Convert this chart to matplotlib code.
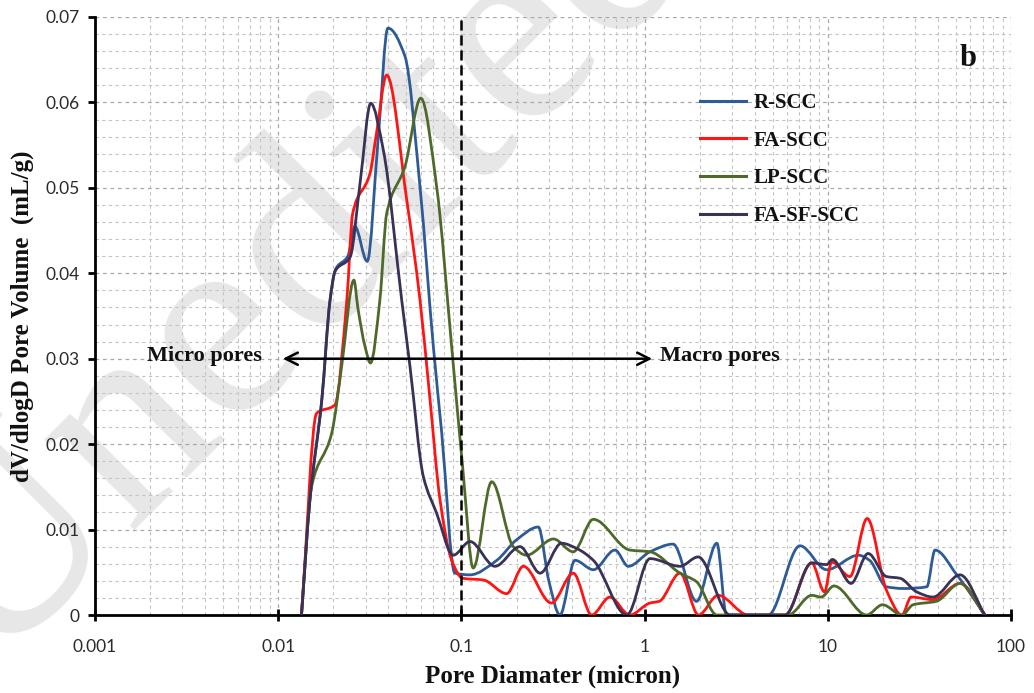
import numpy as np
import matplotlib
matplotlib.use("Agg")
import matplotlib.pyplot as plt
from matplotlib.path import Path
from matplotlib.patches import PathPatch
from matplotlib.lines import Line2D
from matplotlib.ticker import FixedLocator, MultipleLocator, LogLocator, NullFormatter

# ---- pore size distribution data (diameter in micron, dV/dlogD in mL/g) ----
series_names = ["R-SCC", "FA-SCC", "LP-SCC", "FA-SF-SCC"]
series_colors = ["#2e5b95", "#ff1414", "#4e6a2b", "#3b3055"]

r_scc_d = [0.0134, 0.0149, 0.0173, 0.0192, 0.0206, 0.0240, 0.0262, 0.0306, 0.0352, 0.0397,
           0.0492, 0.0595, 0.0703, 0.0781, 0.0921, 0.1114, 0.156, 0.200, 0.263, 0.300,
           0.345, 0.417, 0.525, 0.689, 0.815, 1.07, 1.43, 1.92, 2.48, 2.8,
           4.73, 7.05, 9.86, 14.7, 16.9, 20.9, 25.9, 34.7, 38.5, 50.6, 72.1]
r_scc_v = [0.0, 0.0135, 0.0252, 0.0369, 0.0405, 0.0420, 0.0455, 0.0414, 0.0560, 0.0687,
           0.0654, 0.0500, 0.0314, 0.0213, 0.0049, 0.0047, 0.0064, 0.0088, 0.0103, 0.0040,
           0.0, 0.0064, 0.0053, 0.0076, 0.0057, 0.0074, 0.0083, 0.0016, 0.0084, 0.0,
           0.0, 0.0081, 0.0053, 0.0070, 0.0064, 0.0033, 0.0031, 0.0033, 0.0076, 0.0047, 0.0]

fa_scc_d = [0.0134, 0.0162, 0.0204, 0.0237, 0.0255, 0.0317, 0.0344, 0.0391, 0.0503, 0.0594,
            0.0674, 0.0764, 0.0885, 0.1015, 0.1318, 0.1766, 0.2178, 0.310, 0.408, 0.514,
            0.647, 0.83, 1.07, 1.2, 1.56, 1.97, 2.52, 3.68, 5.84, 8.17,
            9.6, 10.5, 13.2, 16.4, 20.9, 25.4, 28.5, 37.5, 52.7, 72.0]
fa_scc_v = [0.0, 0.0236, 0.0246, 0.0369, 0.0470, 0.0517, 0.0564, 0.0632, 0.0486, 0.0369,
            0.0252, 0.0135, 0.0064, 0.0043, 0.0041, 0.0025, 0.0057, 0.0014, 0.0049, 0.0,
            0.0021, 0.0, 0.0014, 0.0016, 0.0049, 0.0, 0.0023, 0.0, 0.0, 0.0061,
            0.0027, 0.0062, 0.0045, 0.0113, 0.0029, 0.0, 0.0021, 0.0018, 0.0037, 0.0]

lp_scc_d = [0.0134, 0.0152, 0.0196, 0.0222, 0.0259, 0.0272, 0.0298, 0.0319, 0.0359, 0.0391,
            0.0492, 0.0600, 0.0733, 0.0885, 0.1015, 0.116, 0.1464, 0.192, 0.227, 0.318,
            0.408, 0.525, 0.832, 1.07, 1.56, 1.92, 2.48, 6.08, 8.17, 9.2,
            10.8, 16.3, 19.9, 25.4, 29.2, 39.1, 52.7, 72.0]
lp_scc_v = [0.0, 0.0150, 0.0213, 0.0291, 0.0392, 0.0360, 0.0314, 0.0295, 0.0369, 0.0470,
            0.0525, 0.0605, 0.0501, 0.0314, 0.0174, 0.0055, 0.0156, 0.0080, 0.0070, 0.0089,
            0.0074, 0.0112, 0.0076, 0.0074, 0.0049, 0.0039, 0.0, 0.0, 0.0023, 0.0021,
            0.0034, 0.0, 0.0012, 0.0, 0.0012, 0.0016, 0.0037, 0.0]

fa_sf_scc_d = [0.0134, 0.0149, 0.0173, 0.0192, 0.0204, 0.0247, 0.0281, 0.0320, 0.0375, 0.0472,
               0.0524, 0.0620, 0.0733, 0.0903, 0.1114, 0.1525, 0.2089, 0.269, 0.352, 0.425,
               0.525, 0.80, 1.07, 1.56, 1.96, 2.93, 5.84, 8.17, 9.86, 10.6,
               13.4, 16.6, 20.9, 24.8, 30.6, 37.5, 52.7, 72.0]
fa_sf_scc_v = [0.0, 0.0135, 0.0252, 0.0369, 0.0402, 0.0419, 0.0509, 0.0599, 0.0544, 0.0369,
               0.0291, 0.0162, 0.0119, 0.0070, 0.0086, 0.0057, 0.0080, 0.0049, 0.0084, 0.0078,
               0.0064, 0.0, 0.0066, 0.0057, 0.0068, 0.0, 0.0, 0.0061, 0.0059, 0.0065,
               0.0037, 0.0072, 0.0045, 0.0043, 0.0027, 0.0021, 0.0047, 0.0]

x_tick_values = [0.001, 0.01, 0.1, 1, 10, 100]
x_tick_labels = ["0.001", "0.01", "0.1", "1", "10", "100"]
y_tick_values = [0, 0.01, 0.02, 0.03, 0.04, 0.05, 0.06, 0.07]
y_tick_labels = ["0", "0.01", "0.02", "0.03", "0.04", "0.05", "0.06", "0.07"]

boundary_d = 0.1          # micro / macro pore boundary
arrow_level = 0.03
arrow_left, arrow_right = 0.0106, 1.1


def smooth_path(d, v):
    """Smoothed line through the points: shape-preserving cubic Bezier segments in log-x space."""
    d = np.asarray(d, float)
    v = np.asarray(v, float)
    u = np.log10(d)
    h = np.diff(u)
    delta = np.diff(v) / h
    n = len(u)
    m = np.zeros(n)
    for i in range(1, n - 1):
        if delta[i - 1] * delta[i] <= 0:
            m[i] = 0.0
        else:
            w1 = 2 * h[i] + h[i - 1]
            w2 = h[i] + 2 * h[i - 1]
            m[i] = (w1 + w2) / (w1 / delta[i - 1] + w2 / delta[i])
    m[0] = delta[0]
    m[-1] = delta[-1]
    verts = [(d[0], v[0])]
    codes = [Path.MOVETO]
    for i in range(n - 1):
        c1 = (10 ** (u[i] + h[i] / 3), v[i] + m[i] * h[i] / 3)
        c2 = (10 ** (u[i + 1] - h[i] / 3), v[i + 1] - m[i + 1] * h[i] / 3)
        verts += [c1, c2, (d[i + 1], v[i + 1])]
        codes += [Path.CURVE4] * 3
    return Path(verts, codes)


serif = ["Liberation Serif", "DejaVu Serif"]

fig = plt.figure(figsize=(10.34, 6.93), dpi=100)
fig.patch.set_facecolor("white")

# faint watermark behind the plot
fig.text(300 / 1034, 1 - 265 / 693, "Unedited", rotation=45, fontsize=200, family=serif,
         color="#e7e7e7", ha="center", va="center", zorder=-5)

ax = fig.add_axes([95 / 1034, 78 / 693, 916 / 1034, 598 / 693])
ax.set_facecolor("none")
ax.set_xscale("log")
ax.set_xlim(0.001, 100)
ax.set_ylim(0, 0.07)

# grid
ax.xaxis.set_major_locator(FixedLocator(x_tick_values))
ax.xaxis.set_minor_locator(LogLocator(base=10, subs=np.arange(2, 10), numticks=20))
ax.xaxis.set_minor_formatter(NullFormatter())
ax.yaxis.set_major_locator(FixedLocator(y_tick_values))
ax.yaxis.set_minor_locator(MultipleLocator(0.002))
ax.set_xticklabels(x_tick_labels)
ax.set_yticklabels(y_tick_labels)
ax.grid(which="major", color="#a8a8a8", lw=0.9, dashes=(3, 3))
ax.grid(which="minor", color="#c4c4c4", lw=0.8, dashes=(3, 3))
ax.set_axisbelow(True)

for side in ("top", "right"):
    ax.spines[side].set_visible(False)
for side in ("left", "bottom"):
    ax.spines[side].set_linewidth(2.0)
    ax.spines[side].set_color("black")

ax.tick_params(axis="x", which="major", direction="inout", length=9, width=2,
               pad=13, labelsize=12.5, labelcolor="#2b2b2b")
ax.tick_params(axis="y", which="major", direction="out", length=5, width=2,
               pad=6, labelsize=12.5, labelcolor="#2b2b2b")
ax.tick_params(which="minor", length=0)
for lab in ax.get_xticklabels() + ax.get_yticklabels():
    lab.set_family(["Lato", "DejaVu Sans"])

# curves
all_d = [r_scc_d, fa_scc_d, lp_scc_d, fa_sf_scc_d]
all_v = [r_scc_v, fa_scc_v, lp_scc_v, fa_sf_scc_v]
handles = []
for name, col, d, v in zip(series_names, series_colors, all_d, all_v):
    patch = PathPatch(smooth_path(d, v), facecolor="none", edgecolor=col, lw=2.0,
                      transform=ax.transData, zorder=3, capstyle="round", joinstyle="round")
    ax.add_patch(patch)
    handles.append(Line2D([], [], color=col, lw=2.2, label=name))

# micro / macro boundary
ax.axvline(boundary_d, color="black", lw=1.8, dashes=(4, 2), zorder=4)
ax.annotate("", xy=(arrow_left, arrow_level), xytext=(arrow_right, arrow_level),
            arrowprops=dict(arrowstyle="<->", lw=1.8, color="black",
                            mutation_scale=22, shrinkA=0, shrinkB=0), zorder=5)
ax.text(0.0081, arrow_level + 0.0003, "Micro pores", ha="right", va="center",
        fontsize=16, fontweight="bold", family=serif, color="#111111", zorder=5)
ax.text(1.21, arrow_level + 0.0003, "Macro pores", ha="left", va="center",
        fontsize=16, fontweight="bold", family=serif, color="#111111", zorder=5)

ax.text(0.953, 0.93, "b", transform=ax.transAxes, ha="center", va="center",
        fontsize=22, fontweight="bold", family=serif, color="#111111")

leg = ax.legend(handles=handles, loc="upper left", bbox_to_anchor=(700 / 1034, (693 - 93) / 693),
                bbox_transform=fig.transFigure, frameon=False, borderpad=0, borderaxespad=0,
                handlelength=2.2, handletextpad=0.35, labelspacing=0.85,
                prop=dict(family=serif, weight="bold", size=15))
for t in leg.get_texts():
    t.set_color("#111111")

ax.set_xlabel("Pore Diamater (micron)", fontsize=18, fontweight="bold", family=serif,
              color="#111111", labelpad=7)
ax.set_ylabel("dV/dlogD Pore Volume  (mL/g)", fontsize=18, fontweight="bold", family=serif,
              color="#111111", labelpad=8)

fig.savefig("out.png", dpi=100, facecolor="white")
